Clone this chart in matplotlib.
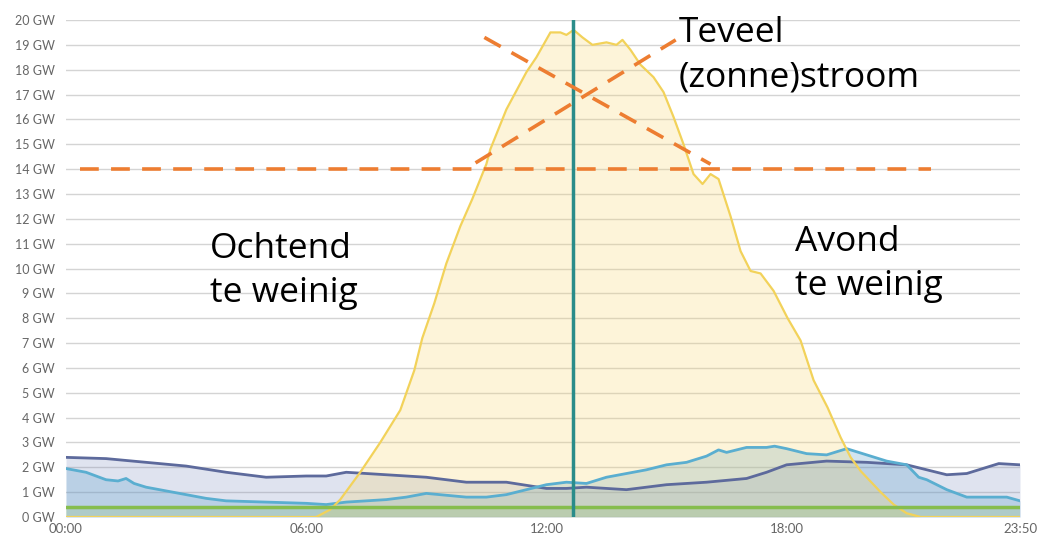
import matplotlib.pyplot as plt

# times in hours, values in GW
hours_load = [0, 1, 2, 3, 4, 5, 6, 6.5, 7, 7.5, 8, 9, 10, 11, 12, 12.5, 13, 14, 15, 16,
              17, 17.5, 18, 19, 20, 21, 21.5, 22, 22.5, 23, 23.3, 23.83]
navy = [2.4, 2.35, 2.2, 2.05, 1.8, 1.6, 1.65, 1.65, 1.8, 1.75, 1.7, 1.6, 1.4, 1.4, 1.15, 1.15,
        1.2, 1.1, 1.3, 1.4, 1.55, 1.8, 2.1, 2.25, 2.2, 2.1, 1.9, 1.7, 1.75, 2.0, 2.15, 2.1]

hours_wind = [0, 0.5, 1, 1.3, 1.5, 1.7, 2, 2.5, 3, 3.5, 4, 5, 6, 6.5, 7, 8, 8.5, 9, 10, 10.5,
              11, 11.5, 12, 12.5, 13, 13.5, 14, 14.5, 15, 15.5, 16, 16.3, 16.5, 17, 17.5,
              17.7, 18, 18.5, 19, 19.5, 20, 20.5, 21, 21.3, 21.5, 22, 22.5, 23, 23.5, 23.83]
wind = [1.95, 1.8, 1.5, 1.45, 1.55, 1.35, 1.2, 1.05, 0.9, 0.75, 0.65, 0.6, 0.55, 0.5, 0.6,
        0.7, 0.8, 0.95, 0.8, 0.8, 0.9, 1.1, 1.3, 1.4, 1.35, 1.6, 1.75, 1.9, 2.1, 2.2, 2.45,
        2.7, 2.6, 2.8, 2.8, 2.85, 2.75, 2.55, 2.5, 2.75, 2.5, 2.25, 2.1, 1.6, 1.5, 1.1, 0.8,
        0.8, 0.8, 0.65]

hours_solar = [0, 6.25, 6.6, 6.85, 7.35, 7.85, 8.35, 8.7, 8.9, 9.2, 9.5, 9.85, 10.15, 10.5,
               10.6, 11.0, 11.5, 11.75, 12.1, 12.35, 12.5, 12.68, 12.9, 13.15, 13.5, 13.75,
               13.9, 14.1, 14.35, 14.675, 14.925, 15.175, 15.425, 15.675, 15.9, 16.1, 16.3,
               16.6, 16.85, 17.1, 17.35, 17.675, 18.025, 18.35, 18.675, 19.025, 19.35, 19.6,
               19.85, 20.35, 20.675, 21.0, 21.35, 23.83]
solar = [0, 0, 0.3, 0.7, 1.8, 3.0, 4.3, 5.9, 7.2, 8.6, 10.2, 11.7, 12.8, 14.2, 14.8, 16.4,
         17.9, 18.5, 19.5, 19.5, 19.4, 19.6, 19.3, 19.0, 19.1, 19.0, 19.2, 18.8, 18.2, 17.7,
         17.1, 16.1, 15.0, 13.8, 13.4, 13.8, 13.6, 12.1, 10.7, 9.9, 9.8, 9.1, 8.0, 7.1, 5.5,
         4.4, 3.2, 2.4, 1.85, 1.0, 0.5, 0.15, 0, 0]

base_level = 0.4
now_hour = 12.675
limit_gw = 14
limit_span = [0.35, 21.6]
cross_a = ([10.45, 16.1], [19.3, 14.2])
cross_b = ([10.23, 15.23], [14.25, 19.2])

tick_hours = [0, 6, 12, 18, 23.83]
tick_labels = ["00:00", "06:00", "12:00", "18:00", "23:50"]

fig = plt.figure(figsize=(10.38, 5.35), dpi=100)
ax = fig.add_axes([66 / 1038, 18 / 535, 954 / 1038, 497 / 535])

for g in range(0, 21):
    ax.axhline(g, color="#d4d4d4", lw=1, zorder=0)

ax.fill_between(hours_load, navy, color="#7080b8", alpha=0.22, lw=0)
ax.fill_between(hours_wind, wind, color="#5aa0cc", alpha=0.28, lw=0)
ax.fill_between(hours_solar, solar, color="#f8d66a", alpha=0.25, lw=0)
ax.fill_between([0, 23.83], [base_level, base_level], color="#7ab648", alpha=0.18, lw=0)

ax.plot(hours_load, navy, color="#5d6a9c", lw=2)
ax.plot(hours_wind, wind, color="#5aaed0", lw=2)
ax.plot(hours_solar, solar, color="#f2d25a", lw=1.6)
ax.axhline(base_level, color="#86bd4e", lw=2.5)
ax.axvline(now_hour, color="#2a8c8a", lw=2.5)

dash = (0, (5.2, 3.4))
ax.plot(limit_span, [limit_gw, limit_gw], color="#ed7d31", lw=2.6, linestyle=dash)
ax.plot(*cross_a, color="#ed7d31", lw=2.6, linestyle=dash)
ax.plot(*cross_b, color="#ed7d31", lw=2.6, linestyle=dash)

txt = dict(fontsize=25.5, family="Open Sans", va="top", ha="left", linespacing=1.38)
ax.text(15.3, 20.15, "Teveel\n(zonne)stroom", clip_on=False, **txt)
ax.text(3.6, 11.45, "Ochtend\nte weinig", **txt)
ax.text(18.2, 11.75, "Avond\nte weinig", **txt)

ax.set_xlim(0, 23.83)
ax.set_ylim(0, 20)
ax.set_yticks(range(0, 21))
ax.set_yticklabels([f"{g} GW" for g in range(0, 21)], fontsize=9, color="#666666", family="Lato")
ax.set_xticks(tick_hours)
ax.set_xticklabels(tick_labels, fontsize=9.5, color="#666666", family="Lato")
ax.tick_params(length=0)
ax.tick_params(axis="x", pad=4)
ax.tick_params(axis="y", pad=8)
for s in ax.spines.values():
    s.set_visible(False)

fig.savefig("out.png", dpi=100)
